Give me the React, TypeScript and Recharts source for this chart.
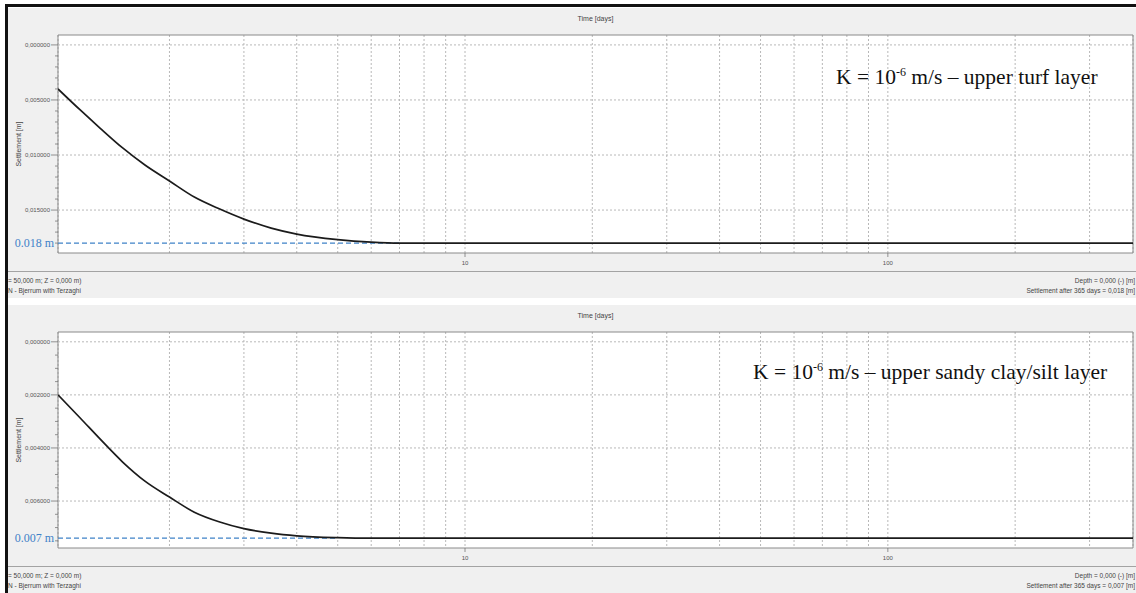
import React from "react";
import { LineChart, Line, XAxis, YAxis, CartesianGrid, ReferenceLine, ReferenceArea } from "recharts";

// time axis (days, log scale)
const days = [1.09, 1.23, 1.37, 1.55, 1.75, 2, 2.29, 2.63, 3, 3.48, 4, 5, 6, 7, 10, 100, 380];
const xDomain = [1.09, 380];
const xTicks = [2, 3, 4, 5, 6, 7, 8, 9, 10, 20, 30, 40, 50, 60, 70, 80, 90, 100, 200, 300];
const xLabelled = [10, 100];

// upper turf layer
const turfSettlement = [0.004, 0.00591, 0.00755, 0.00936, 0.01091, 0.01236, 0.01382, 0.01491, 0.01582, 0.01664, 0.01718, 0.01768, 0.01791, 0.018, 0.018, 0.018, 0.018];
const turfDomain = [-0.0009, 0.0189];
const turfMajor = [0, 0.005, 0.01, 0.015];
const turfMinor = [0, 0.001, 0.002, 0.003, 0.004, 0.005, 0.006, 0.007, 0.008, 0.009, 0.01, 0.011, 0.012, 0.013, 0.014, 0.015, 0.016, 0.017, 0.018];

// upper sandy clay/silt layer
const siltSettlement = [0.002, 0.00287, 0.00366, 0.00453, 0.00525, 0.00585, 0.00642, 0.00679, 0.00704, 0.00721, 0.00731, 0.00738, 0.0074, 0.0074, 0.0074, 0.0074, 0.0074];
const siltDomain = [-0.00037, 0.00777];
const siltMajor = [0, 0.002, 0.004, 0.006];
const siltMinor = [0, 0.0005, 0.001, 0.0015, 0.002, 0.0025, 0.003, 0.0035, 0.004, 0.0045, 0.005, 0.0055, 0.006, 0.0065, 0.007, 0.0075];

const fmt = (v: number) => v.toFixed(6).replace(".", ",");

const YTick = (props: any) => {
  const { x, y, payload, majors } = props;
  const major = majors.some((m: number) => Math.abs(m - payload.value) < 1e-9);
  return (
    <g>
      <line x1={x - (major ? 7 : 3)} x2={x} y1={y} y2={y} stroke="#777" strokeWidth={0.8} />
      {major && (
        <text x={x - 8} y={y} dy={2.2} textAnchor="end" fontSize={6} fill="#555">
          {fmt(payload.value)}
        </text>
      )}
    </g>
  );
};

const XTick = (props: any) => {
  const { x, y, payload } = props;
  if (!xLabelled.includes(payload.value)) return null;
  return (
    <g>
      <line x1={x} x2={x} y1={y} y2={y + 4} stroke="#777" strokeWidth={0.8} />
      <text x={x} y={y + 12} textAnchor="middle" fontSize={6} fill="#555">
        {payload.value}
      </text>
    </g>
  );
};

const Panel = ({ top, height, values, domain, majors, minors, final, finalLabel, lineEnd, layer, result, noteLeft, noteTop }: any) => {
  const data = days.map((d, i) => ({ day: d, settlement: values[i] }));
  const chartH = height - 27;
  return (
    <div style={{ position: "absolute", left: 8, top, width: 1128, height, background: "#f0f0f0", overflow: "hidden" }}>
      <div style={{ position: "absolute", top: 7, left: 50, width: 1075, textAlign: "center", fontSize: 7, lineHeight: "8px", color: "#444" }}>
        Time [days]
      </div>
      <div style={{ position: "absolute", top: 0, left: 0 }}>
        <LineChart width={1128} height={chartH} data={data} margin={{ top: 27, right: 3, bottom: 0, left: 0 }}>
          <CartesianGrid fill="#fff" horizontal={false} stroke="#b8b8b8" strokeDasharray="2 2" />
          {majors.map((m: number) => (
            <ReferenceLine key={m} y={m} stroke="#b8b8b8" strokeDasharray="2 2" />
          ))}
          <ReferenceArea y1={domain[0]} y2={domain[1]} fill="none" stroke="#8a8a8a" ifOverflow="visible" />
          <XAxis
            dataKey="day"
            type="number"
            scale="log"
            domain={xDomain}
            ticks={xTicks}
            interval={0}
            allowDataOverflow
            tick={<XTick />}
            tickLine={false}
            axisLine={false}
            tickSize={0}
            tickMargin={0}
            height={18}
          />
          <YAxis
            type="number"
            domain={domain}
            reversed
            ticks={minors}
            interval={0}
            allowDataOverflow
            tick={<YTick majors={majors} />}
            tickLine={false}
            axisLine={false}
            tickSize={0}
            tickMargin={0}
            width={50}
            label={{
              content: (p: any) => {
                const vb = p.viewBox || { x: 0, y: 27, height: 218 };
                const cx = vb.x + 13;
                const cy = vb.y + vb.height / 2;
                return (
                  <text x={cx} y={cy} transform={`rotate(-90 ${cx} ${cy})`} textAnchor="middle" fontSize={7} fill="#444">
                    Settlement [m]
                  </text>
                );
              },
            }}
          />
          <ReferenceLine
            segment={[{ x: xDomain[0], y: final }, { x: lineEnd, y: final }]}
            stroke="#3f82c8"
            strokeDasharray="5 3"
            strokeWidth={1.2}
            ifOverflow="visible"
            label={{
              content: (p: any) => {
                const vb = p.viewBox || { x: 50, y: 0 };
                return (
                  <text x={vb.x - 4} y={vb.y + 4} textAnchor="end" fontSize={12} fill="#3f82c8" fontFamily="'Liberation Serif', 'DejaVu Serif', serif">
                    {finalLabel}
                  </text>
                );
              },
            }}
          />
          <Line type="monotone" dataKey="settlement" stroke="#1b1b1b" strokeWidth={1.7} dot={false} isAnimationActive={false} />
        </LineChart>
      </div>
      <div style={{ position: "absolute", left: noteLeft, top: noteTop, fontFamily: "'Liberation Serif', 'Times New Roman', serif", fontSize: 21.5, lineHeight: "21.5px", color: "#111", whiteSpace: "nowrap" }}>
        K = 10<span style={{ fontSize: 12, position: "relative", top: -8 }}>-6</span> m/s – {layer}
      </div>
      <div style={{ position: "absolute", left: 0, right: 0, top: chartH, borderTop: "1px solid #a3a3a3" }} />
      <div style={{ position: "absolute", left: 0, top: chartH + 5, fontSize: 6.5, lineHeight: "10px", color: "#444", whiteSpace: "nowrap" }}>
        <div>= 50,000 m; Z = 0,000 m)</div>
        <div>N - Bjerrum with Terzaghi</div>
      </div>
      <div style={{ position: "absolute", right: 1, top: chartH + 5, fontSize: 6.5, lineHeight: "10px", color: "#444", whiteSpace: "nowrap", textAlign: "right" }}>
        <div>Depth = 0,000 (-) [m]</div>
        <div>Settlement after 365 days = {result} [m]</div>
      </div>
    </div>
  );
};

export default function App() {
  return (
    <div style={{ position: "absolute", left: 0, top: 0, width: 1136, height: 593, background: "#fff", overflow: "hidden", fontFamily: "'Liberation Sans', Arial, sans-serif" }}>
      <div style={{ position: "absolute", left: 5, top: 4, width: 3, height: 589, background: "#111" }} />
      <div style={{ position: "absolute", left: 5, top: 4, width: 1131, height: 3, background: "#111" }} />
      <Panel
        top={8}
        height={290}
        values={turfSettlement}
        domain={turfDomain}
        majors={turfMajor}
        minors={turfMinor}
        final={0.018}
        finalLabel="0.018 m"
        lineEnd={7}
        layer="upper turf layer"
        result="0,018"
        noteLeft={828}
        noteTop={59}
      />
      <Panel
        top={305}
        height={288}
        values={siltSettlement}
        domain={siltDomain}
        majors={siltMajor}
        minors={siltMinor}
        final={0.0074}
        finalLabel="0.007 m"
        lineEnd={5}
        layer="upper sandy clay/silt layer"
        result="0,007"
        noteLeft={745}
        noteTop={57}
      />
    </div>
  );
}
